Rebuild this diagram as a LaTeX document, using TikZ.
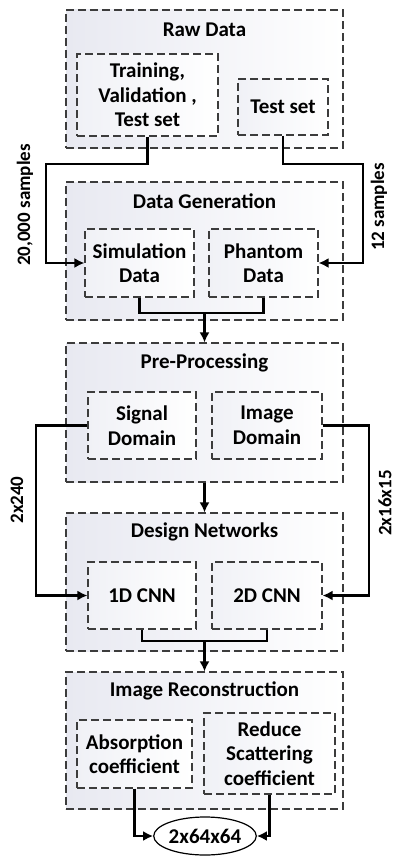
\documentclass[tikz,border=0pt]{standalone}
\usepackage{fontspec}
\setmainfont{Carlito}
\usetikzlibrary{arrows.meta,shapes.geometric}
\definecolor{shadeA}{RGB}{232,233,241}
\definecolor{shadeB}{RGB}{240,241,246}
\definecolor{dashc}{RGB}{60,60,60}
\begin{document}
\begin{tikzpicture}[x=1pt,y=-1pt,
  font=\bfseries\fontsize{21}{24.5}\selectfont,
  outerbox/.style={draw=dashc, line width=1.1pt, dash pattern=on 8pt off 4pt,
     left color=shadeA, right color=white, minimum width=277pt, inner sep=0pt},
  innerbox/.style={draw=dashc, line width=1.1pt, dash pattern=on 8pt off 4pt,
     left color=shadeB, right color=white, align=center, inner sep=0pt},
  title/.style={inner sep=0pt},
  conn/.style={line width=2.6pt, draw=black},
  arr/.style={conn, -{Latex[length=10pt,width=10pt]}},
  side/.style={rotate=90, inner sep=0pt, font=\bfseries\fontsize{19}{22}\selectfont}]
\useasboundingbox (0,0) rectangle (395,856);
\fill[white] (0,0) rectangle (395,856);

% outer boxes
\node[outerbox, minimum height=138pt] (raw) at (204.5,79) {};
\node[outerbox, minimum height=138pt] (gen) at (204.5,251) {};
\node[outerbox, minimum height=139pt] (pre) at (204.5,412.5) {};
\node[outerbox, minimum height=138pt] (des) at (204.5,582) {};
\node[outerbox, minimum height=137pt] (rec) at (204.5,740.5) {};

% titles
\node[title] (rawt) at (204.5,30) {Raw Data};
\node[title] (gent) at (204.5,201) {Data Generation};
\node[title] (pret) at (204.5,363) {Pre-Processing};
\node[title] (dest) at (204.5,532) {Design Networks};
\node[title] (rect) at (204.5,691) {Image Reconstruction};

% inner boxes
\node[innerbox, minimum width=141pt, minimum height=82pt] (train) at (147.5,95) {Training,\\Validation ,\\Test set};
\node[innerbox, minimum width=90pt, minimum height=56pt] (test) at (283,107) {Test set};
\node[innerbox, minimum width=109pt, minimum height=68pt] (sim) at (139.5,263) {Simulation\\Data};
\node[innerbox, minimum width=109pt, minimum height=68pt] (pha) at (263.5,263) {Phantom\\Data};
\node[innerbox, minimum width=108pt, minimum height=67pt] (sig) at (142,425.5) {Signal\\Domain};
\node[innerbox, minimum width=110pt, minimum height=67pt] (img) at (267,425.5) {Image\\Domain};
\node[innerbox, minimum width=108pt, minimum height=67pt] (cnna) at (142,595.5) {1D CNN};
\node[innerbox, minimum width=110pt, minimum height=67pt] (cnnb) at (267,595.5) {2D CNN};
\node[innerbox, minimum width=115pt, minimum height=68pt] (abs) at (134.5,754) {Absorption\\coefficient};
\node[innerbox, minimum width=131pt, minimum height=81pt] (red) at (269.5,753.5) {Reduce\\Scattering\\coefficient};
\node[draw=black, line width=1.2pt, ellipse, minimum width=97pt, minimum height=38pt, inner sep=0pt, fill=white] (out) at (205,836) {2x64x64};

% coordinates
\coordinate (c1) at (46,164);
\coordinate (c2) at (363,164);
\coordinate (m1) at (204.5,313);
\coordinate (c3) at (36,510);
\coordinate (c4) at (369,510);
\coordinate (m2) at (204.5,641);

% connectors
\draw[arr] (train.south) |- (c1) |- (sim.west);
\draw[arr] (test.south) |- (c2) |- (pha.east);
\draw[conn] (sim.south) |- (m1) -| (pha.south);
\draw[arr] (m1) -- (pre.north);
\draw[arr] (pre.south) -- (des.north);
\draw[arr] (sig.west) -| (c3) |- (cnna.west);
\draw[arr] (img.east) -| (c4) |- (cnnb.east);
\draw[conn] (cnna.south) |- (m2) -| (cnnb.south);
\draw[arr] (m2) -- (rec.north);
\draw[arr] (abs.south) |- (out.west);
\draw[arr] (red.south) |- (out.east);

% side labels
\node[side] (l1) at (25,205) {20,000 samples};
\node[side] (l2) at (379,207) {12 samples};
\node[side] (l3) at (17,500) {2x240};
\node[side] (l4) at (385,503) {2x16x15};
\end{tikzpicture}
\end{document}
